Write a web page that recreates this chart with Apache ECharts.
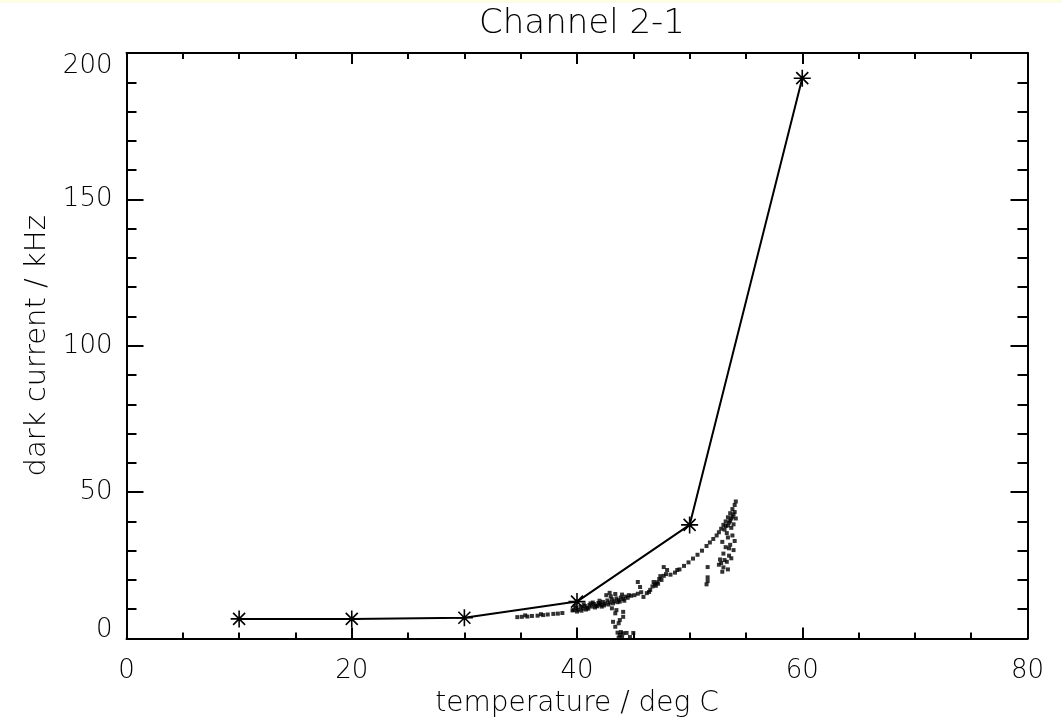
<!DOCTYPE html>
<html><head><meta charset="utf-8">
<script src="https://cdn.jsdelivr.net/npm/echarts@6/dist/echarts.min.js"></script>
<style>html,body{margin:0;padding:0;background:#fff;}#c{width:1062px;height:724px;}</style>
</head><body><div id="c"></div>
<script>
// Data
const title = 'Channel 2-1';
const xName = 'temperature / deg C';
const yName = 'dark current / kHz';
const starTemps = [10, 20, 30, 40, 50, 60];
const starValues = [6.7, 6.7, 7.1, 12.6, 38.8, 191.4];
const cloudPoints = [
  // lower thin segment
  [34.7,7.3],[35.1,7.4],[35.6,7.5],[36.0,7.7],[36.5,7.8],[37.0,8.0],[37.4,8.2],[37.9,8.4],[38.3,8.5],[38.7,8.7],[35.4,7.9],[36.8,8.3],
  // dense band near 40-45
  [39.6,9.6],[39.9,10.4],[40.1,9.8],[40.3,10.8],[40.5,10.2],[40.7,11.1],[40.9,10.5],[41.1,11.4],[41.3,10.9],[41.5,11.8],[41.7,11.2],[41.9,12.1],
  [42.1,11.5],[42.3,12.5],[42.5,11.9],[42.7,13.0],[42.9,12.3],[43.1,13.4],[43.3,12.7],[43.5,13.7],[43.7,13.1],[43.9,14.0],[44.1,13.5],[44.3,14.3],
  [44.5,13.9],[44.8,14.6],[45.1,14.8],[45.4,15.3],[45.7,15.8],[40.0,9.2],[40.8,9.9],[41.6,10.6],[42.4,11.3],[43.2,12.0],[41.2,12.0],[42.0,12.9],
  [42.6,14.8],[42.9,15.6],[43.4,15.2],[43.0,14.4],[44.0,15.0],[39.8,11.2],
  [40.4,9.5],[41.0,10.2],[41.8,11.0],[42.2,10.9],[42.8,11.6],[43.6,12.4],[44.2,12.9],[40.6,11.6],[41.4,12.3],[42.0,11.9],[43.8,12.6],[44.6,14.8],
  // vertical dots near 44
  [43.1,10.3],[43.5,9.7],[43.4,8.6],[44.1,9.1],[44.1,7.4],[43.2,5.7],[43.7,5.2],[43.4,4.0],[43.8,6.3],[43.6,2.0],[43.8,1.2],[44.0,0.5],
  [43.7,0.3],[44.1,1.8],[43.9,2.2],[44.4,1.9],[45.0,1.9],[44.7,0.5],
  // rising curve
  [45.9,14.2],[46.2,15.5],[46.5,16.6],[46.7,17.8],[46.9,18.5],[47.1,19.2],[47.3,20.3],[47.5,20.0],[47.7,21.4],[47.9,22.0],[46.8,19.3],[47.4,21.3],
  [45.4,19.3],[45.6,17.6],[47.7,24.4],[48.0,23.4],[48.9,23.4],[48.3,21.8],[48.7,22.5],[49.1,23.6],[49.5,24.8],[49.9,26.0],[50.3,27.3],[50.7,28.6],
  [51.1,30.0],[51.5,31.6],[51.8,32.8],[52.1,34.0],[46.4,15.9],[47.0,18.0],[47.2,18.7],
  // wedge near 53-54
  [52.4,35.2],[52.6,36.3],[52.8,37.5],[53.0,38.8],[53.2,40.0],[53.4,41.4],[53.6,42.8],[53.8,44.2],[54.0,45.6],[54.1,46.8],[53.1,37.2],[53.4,38.6],
  [53.6,40.2],[53.8,41.6],[54.0,43.2],[53.9,39.0],[53.7,37.8],[54.1,41.0],[53.3,36.0],[53.5,39.6],[53.7,41.0],[53.9,42.4],[53.2,38.4],
  // scattered below wedge
  [52.9,33.0],[53.4,34.5],[53.8,35.2],[53.2,31.2],[53.6,32.0],[54.0,33.3],[53.0,29.0],[53.5,28.3],[53.9,30.2],[52.7,27.0],[53.3,26.2],[53.7,27.4],
  [52.6,25.2],[53.0,24.3],[53.4,23.6],[52.9,22.8],[53.1,26.8],[52.8,25.8],[53.5,30.8],
  // isolated
  [51.6,24.4],[51.6,20.9],[51.5,18.5],[51.6,19.6],[39.7,9.7]
];
const xMin = 0, xMax = 80, xStep = 20;
const yMin = 0, yMax = 200, yStep = 50;

const font = "'DejaVu Sans', sans-serif";
const starPath = 'path://M0,-10L0,10M-10,0L10,0M-7.07,-7.07L7.07,7.07M-7.07,7.07L7.07,-7.07';
const axisLine = {show: true, onZero: false, lineStyle: {color: '#000', width: 2}};

function xAx(pos, labels) {
  return {
    type: 'value', position: pos, min: xMin, max: xMax, interval: xStep,
    axisLine: axisLine,
    axisTick: {show: true, inside: true, length: 11, lineStyle: {color: '#000', width: 2}},
    minorTick: {show: true, splitNumber: 4, length: 6, lineStyle: {color: '#000', width: 2}},
    splitLine: {show: false},
    axisLabel: {show: labels, margin: 20, color: '#000', fontSize: 26, fontFamily: font, fontWeight: 200},
    name: labels ? xName : '', nameLocation: 'middle', nameGap: 48,
    nameTextStyle: {color: '#000', fontSize: 28, fontFamily: font, fontWeight: 200}
  };
}
function yAx(pos, labels) {
  return {
    type: 'value', position: pos, min: yMin, max: yMax, interval: yStep,
    axisLine: axisLine,
    axisTick: {show: true, inside: true, length: 17, lineStyle: {color: '#000', width: 2}},
    minorTick: {show: true, splitNumber: 5, length: 10, lineStyle: {color: '#000', width: 2}},
    splitLine: {show: false},
    axisLabel: {show: labels, margin: 14, color: '#000', fontSize: 26, fontFamily: font, fontWeight: 200,
      verticalAlignMaxLabel: 'top',
      formatter: function (v) { return v === yMin ? '{lo|' + v + '}' : String(v); },
      rich: {lo: {color: '#000', fontSize: 26, fontFamily: font, fontWeight: 200, padding: [0, 0, 16, 0]}}},
    name: labels ? yName : '', nameLocation: 'middle', nameGap: 75,
    nameTextStyle: {color: '#000', fontSize: 29, fontFamily: font, fontWeight: 200}
  };
}

const chart = echarts.init(document.getElementById('c'), null, {renderer: 'canvas'});
chart.setOption({
  backgroundColor: '#ffffff',
  animation: false,
  title: {text: title, left: 577, top: 2, textAlign: 'center',
    textStyle: {color: '#000', fontSize: 34, fontFamily: font, fontWeight: 200}},
  graphic: [{type: 'rect', left: 0, top: 0, shape: {width: 1062, height: 3}, style: {fill: '#fdfde6'}, silent: true}],
  grid: {left: 126.5, right: 34.5, top: 53, bottom: 85.5},
  xAxis: [xAx('bottom', true), xAx('top', false)],
  yAxis: [yAx('left', true), yAx('right', false)],
  series: [
    {
      type: 'scatter', xAxisIndex: 0, yAxisIndex: 0,
      data: cloudPoints, symbol: 'rect', symbolSize: 4,
      itemStyle: {color: '#000'}, silent: true
    },
    {
      type: 'line', xAxisIndex: 0, yAxisIndex: 0,
      data: starTemps.map((t, i) => [t, starValues[i]]),
      symbol: starPath, symbolSize: 17, showAllSymbol: true,
      lineStyle: {color: '#000', width: 2},
      itemStyle: {color: '#000', borderColor: '#000', borderWidth: 1.6},
      silent: true
    }
  ]
});
</script></body></html>
